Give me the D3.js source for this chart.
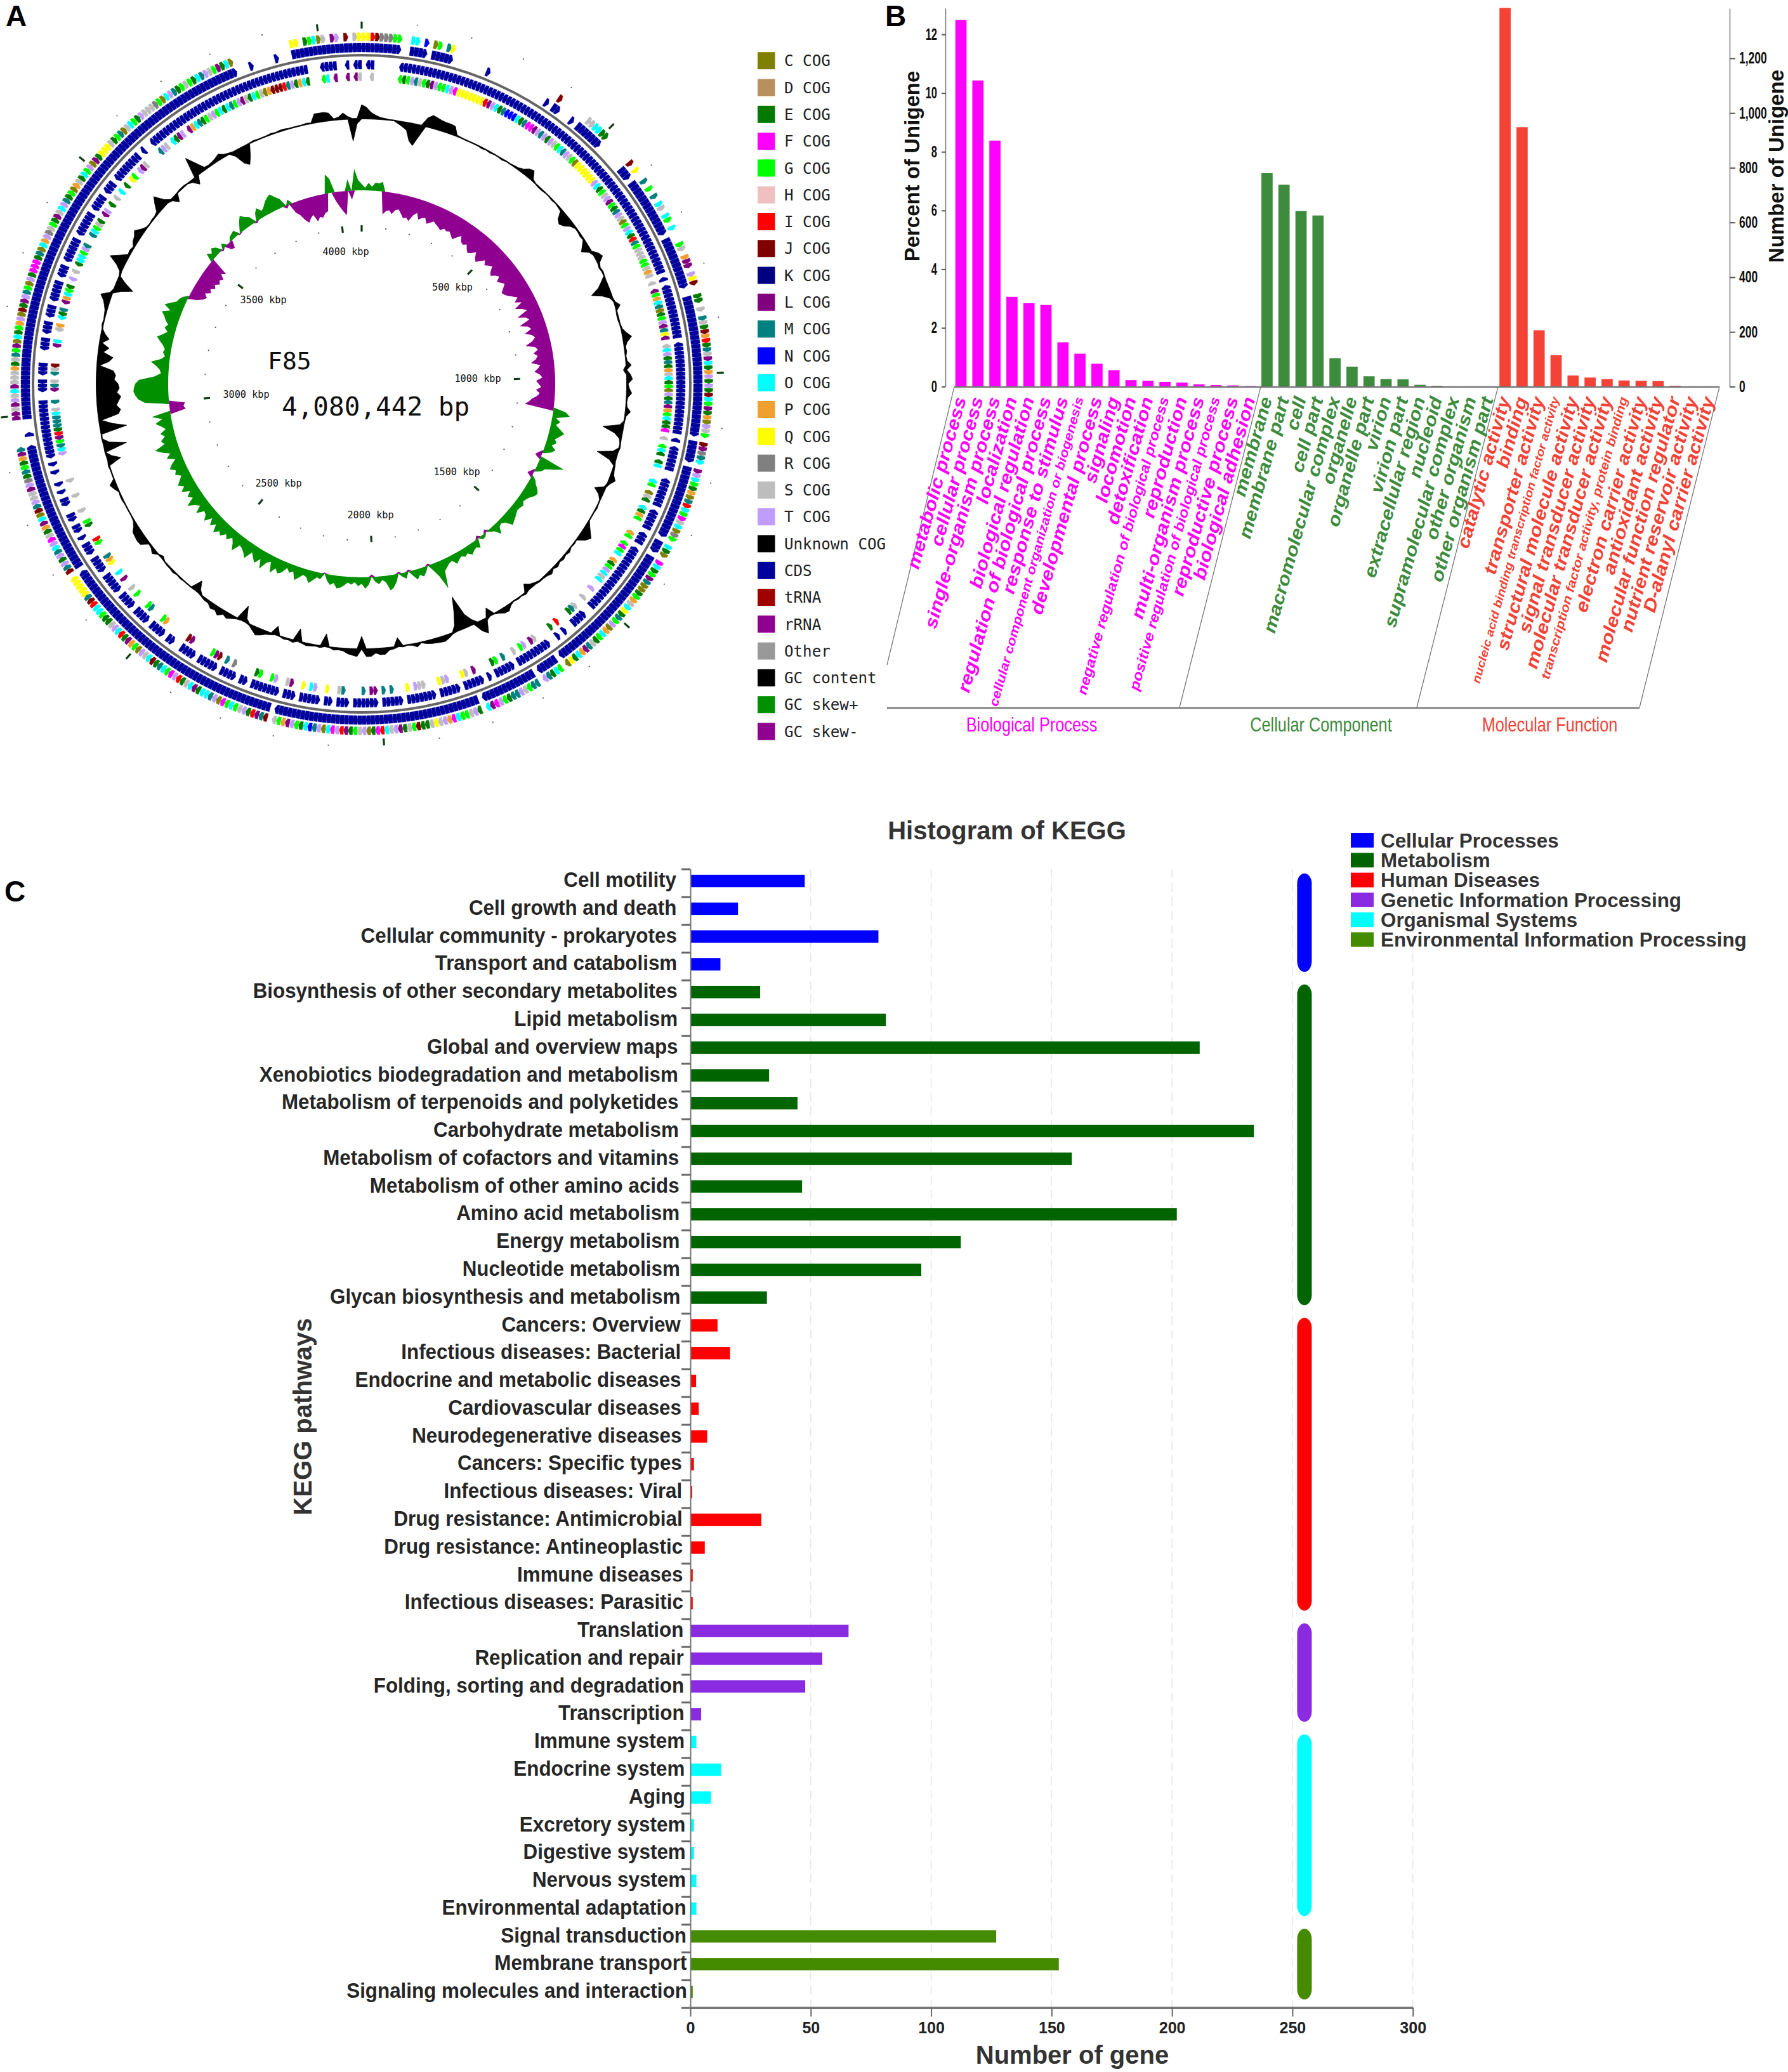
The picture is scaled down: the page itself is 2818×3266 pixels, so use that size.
<!DOCTYPE html>
<html><head><meta charset="utf-8">
<script src="https://cdn.jsdelivr.net/npm/d3@7/dist/d3.min.js"></script>
<style>html,body{margin:0;padding:0;background:#fff}svg{display:block}</style>
</head><body><div id="chart"></div>
<script>
// ---------- Panel A data ----------
const genomeLength = 4080442;
const cogLegend = ["C COG","D COG","E COG","F COG","G COG","H COG","I COG","J COG","K COG","L COG","M COG","N COG","O COG","P COG","Q COG","R COG","S COG","T COG","Unknown COG","CDS","tRNA","rRNA","Other","GC content","GC skew+","GC skew-"];
const cogLegendColors = ["#808000","#b89060","#007a00","#ff00ff","#00ff00","#f0c0c0","#ff0000","#800000","#000080","#800080","#008080","#0000ff","#00ffff","#f0a030","#ffff00","#808080","#bdbdbd","#c09cff","#000000","#00009c","#a00000","#900090","#999999","#000000","#009000","#900090"];
// one row per 30 degrees, clockwise from the top; each letter is a gene's COG class, x = CDS without a class, . = no gene
const outerGenes = [
"QQIJRRRGG..OOxN.CGxMQ........x..........",
"....x.Jx...x.xSSOOEE.......JxQ.xMxGxMxOS",
"xOGxO.xxGSxPLLxTQJ..EExSxMSEJPIEMSLOEPTE",
"TEJOGLEPCTSG.JLRMO.LTOGEPCMIOGFSOCRG.OEC",
".FOEGLMCCEGPSOQEMGTCPOGESMLPOEQC.GOEMT.M",
"MGSTMMEGTFLO.ETSGGOFPTSQSEEJGSELTSOIFECT",
"SGELITFOCTMNOEGTLPGS.JMLIETSGOGFCTMOOELO",
"SEITFGOMEJOSTCGPLEIOTSEEGOOIJMQQQQQ.JMTE",
"TMOTFSEPLOCJMTSSLTREMGEPLM..x...LLSLTSOL",
"SSSPESMGLCOEGPTCJELTMGCTEFFFEMCOPTRSGELS",
"OTMEGCPSEOGTCLEQQQSEGMCSOGETSSSRGCOTMEGS",
"GEOMTSGLEOC...x.....x...QQxEGOCSxLTxJxSQ"];
const innerGenes = [
".xS......GEGTMSGELTGGOTFQQQQQQQILTOEMNNN",
"OEMFFLTMTETSGOMTSGCQQQQQQTOEGSTLGEMTSCGT",
"OEIMGSSSGGSPS.S.LGPOMCEGTLMQL.SOTEMEPSOE",
"GCTEMLPGOEEF.S.GOExEO..xOGxCSE.OEPGx.xPG",
".GFGOxPEGTOSOxxTxxS..SMEx..I.E..xxSLxTGx",
"S.xMxGE.x.xLxSQ.xxTSQ.xxSSTxQ.xxMxM.LLxM",
"xx.xMS.xQ.xTOxQ.xLS.xTGxxGE.xx.xRxM.JLGx",
"x.xxLJ..xx.xPGx.xMGx.xGxS.xLxOx.QPMx.xGI",
".x.EG.xS..xS.x.S..x.x.TOMGLIEMMMOSxM..LM",
"S.MSJ...xLO.xSP.OEM.LPOGE.TxS.EOOGTM.xMO",
"GSE.LTxE.SxO.ExQGxTLS.x..MTSxOELTxLPOMEG",
"STGOEOMGTLSEOGSCPJJJIMTEPOE...GOxL..L.LS"];
// GC content, one value per degree, per 30-degree row (outward +, inward -)
const gcContentRows = [
[22,18,10,6,3,2,1,1,-4,-8,-12,-28,-34,-18,14,20,18,16,15,15,14,2,1,-1,-1,-1,-1,-2,-1,-2],
[-1,-1,-2,1,1,2,3,6,12,14,3,-1,-2,-2,-1,-1,-2,-1,-2,-3,-14,-18,-14,-6,-2,-2,-3,-2,-8,-14],
[-4,8,12,3,-2,2,1,-8,-16,-30,-14,-4,2,8,-1,-2,-2,-1,2,7,14,6,2,3,1,2,8,-5,6,9],
[2,4,8,2,1,2,8,2,1,-6,-32,-12,-3,1,2,-8,-32,-10,2,3,5,10,4,-3,-16,-6,-1,1,2,1],
[1,1,6,12,18,12,1,2,1,4,2,4,2,5,2,6,3,2,2,-3,-6,-12,3,1,2,-1,3,9,8,4],
[1,-14,4,23,15,-8,-20,-53,-30,-10,2,6,9,8,7,6,4,1,6,2,-1,2,-14,3,4,10,10,7,12,12],
[-20,12,10,8,4,3,4,1,-20,3,2,3,4,2,-20,4,2,3,1,-14,3,5,9,12,7,2,-6,-25,2,5],
[9,6,12,7,9,4,4,2,-6,-18,1,1,1,2,1,3,2,2,1,-4,1,7,3,2,13,14,13,12,6,2],
[1,1,1,1,2,2,1,6,10,1,1,1,2,-21,-8,1,-36,-10,1,-1,-42,-20,-4,-32,-36,-30,-34,-38,-32,-36],
[-34,-28,-30,-26,-4,-18,-24,-8,-16,-4,-14,-6,-1,2,1,2,3,6,10,17,4,-12,-29,-14,-2,3,12,27,14,3],
[4,2,7,9,14,7,2,1,2,2,4,14,23,8,-3,-12,1,2,2,1,-4,-13,33,18,4,3,4,6,9,4],
[2,-8,-24,-30,-18,1,2,1,1,1,2,1,2,2,1,1,1,1,2,1,14,14,14,12,2,4,10,4,-35,-8]];
// GC skew, one value per degree (green outward +, purple inward -)
const gcSkewRows = [
[10,4,12,6,13,12,15,-36,-30,-28,-33,-26,-24,-30,-36,-34,-38,-27,-22,-31,-27,-25,-33,-29,-25,-28,-30,-33,-28,-30],
[-28,-32,-36,-30,-24,-32,-34,-30,-36,-40,-36,-30,-38,-42,-36,-30,-36,-32,-28,-36,-40,-34,-30,-38,-34,-30,-36,-42,-40,-36],
[-30,-24,-32,-22,-36,-26,-20,-38,-26,-22,-40,-28,-24,-36,-26,-22,-28,-40,-26,-22,-30,-24,-28,-36,-22,-26,-32,-24,-20,-30],
[-26,-22,-30,-24,-28,-36,-40,-46,20,27,6,14,8,16,24,18,12,16,10,18,12,-6,-10,41,28,14,10,-5,-9,8],
[12,18,22,20,15,12,10,14,12,11,13,16,18,21,10,6,8,18,8,4,-5,5,6,-5,14,10,12,16,10,13],
[9,12,16,8,10,14,18,45,22,10,-3,8,14,10,16,8,-3,10,6,-3,12,20,24,10,6,12,8,-4,12,18],
[10,14,8,12,9,14,18,20,12,16,10,-2,10,8,14,20,12,10,16,22,10,14,8,18,22,16,26,10,14,28],
[14,24,18,12,26,20,16,14,28,18,12,20,14,22,18,26,14,22,12,24,16,14,26,14,20,30,16,22,14,26],
[18,26,20,14,22,18,26,20,12,24,16,28,37,20,24,16,22,12,18,26,14,30,-25,-22,-25,38,48,52,55,54],
[52,46,22,12,14,20,29,14,8,12,10,14,20,26,18,12,18,14,20,24,30,18,30,22,14,12,8,-14,-22,-26],
[-20,-28,-24,-30,-26,-32,-28,-32,-24,-30,14,8,14,10,-3,8,-10,-12,6,8,10,-2,8,16,22,16,12,-3,12,18],
[10,14,20,24,27,20,14,-5,8,-16,-22,-32,-38,-32,-28,-40,-34,-36,-30,-28,30,22,-14,-24,-32,-38,18,-14,34,16]];
const kbpMajor = [0,500,1000,1500,2000,2500,3000,3500,4000];
const kbpLabels = ["500 kbp","1000 kbp","1500 kbp","2000 kbp","2500 kbp","3000 kbp","3500 kbp","4000 kbp"];
const genomeName = "F85";
const genomeSizeLabel = "4,080,442 bp";

// ---------- Panel B data ----------
const goProcess = ["metabolic process","cellular process","single-organism process","localization","biological regulation","regulation of biological process","response to stimulus","cellular component organization or biogenesis","developmental process","signaling","locomotion","detoxification","negative regulation of biological process","reproduction","multi-organism process","positive regulation of biological process","reproductive process","biological adhesion"];
const goProcessPct = [12.49,10.43,8.38,3.06,2.84,2.78,1.51,1.12,0.78,0.56,0.22,0.2,0.16,0.14,0.08,0.05,0.04,0.02];
const goComponent = ["membrane","membrane part","cell","cell part","macromolecular complex","organelle","organelle part","virion","virion part","extracellular region","nucleoid","supramolecular complex","other organism","other organism part"];
const goComponentPct = [7.27,6.88,5.98,5.83,0.97,0.68,0.35,0.26,0.25,0.06,0.03,0.01,0.01,0.01];
const goFunction = ["catalytic activity","binding","transporter activity","nucleic acid binding transcription factor activity","structural molecule activity","signal transducer activity","molecular transducer activity","transcription factor activity, protein binding","electron carrier activity","antioxidant activity","molecular function regulator","nutrient reservoir activity","D-alanyl carrier activity"];
const goFunctionPct = [12.9,8.84,1.92,1.07,0.38,0.31,0.26,0.21,0.2,0.19,0.03,0.01,0.01];
const goPctTicks = [0,2,4,6,8,10,12];
const goCountTicks = [0,200,400,600,800,1000,1200];
const goGroups = ["Biological Process","Cellular Component","Molecular Function"];

// ---------- Panel C data ----------
const keggGroups = ["Cellular Processes","Metabolism","Human Diseases","Genetic Information Processing","Organismal Systems","Environmental Information Processing"];
const keggColors = ["#0000ff","#006400","#ff0000","#8a2be2","#00ffff","#458b00"];
const keggPathways = [
["Cell motility","Cell growth and death","Cellular community - prokaryotes","Transport and catabolism"],
["Biosynthesis of other secondary metabolites","Lipid metabolism","Global and overview maps","Xenobiotics biodegradation and metabolism","Metabolism of terpenoids and polyketides","Carbohydrate metabolism","Metabolism of cofactors and vitamins","Metabolism of other amino acids","Amino acid metabolism","Energy metabolism","Nucleotide metabolism","Glycan biosynthesis and metabolism"],
["Cancers: Overview","Infectious diseases: Bacterial","Endocrine and metabolic diseases","Cardiovascular diseases","Neurodegenerative diseases","Cancers: Specific types","Infectious diseases: Viral","Drug resistance: Antimicrobial","Drug resistance: Antineoplastic","Immune diseases","Infectious diseases: Parasitic"],
["Translation","Replication and repair","Folding, sorting and degradation","Transcription"],
["Immune system","Endocrine system","Aging","Excretory system","Digestive system","Nervous system","Environmental adaptation"],
["Signal transduction","Membrane transport","Signaling molecules and interaction"]];
const keggCounts = [
[47.5,19.8,78.1,12.5],
[29,81.2,211.5,32.7,44.5,234,158.4,46.4,202,112.3,95.9,31.8],
[11.3,16.5,2.4,3.5,7,1.5,0.8,29.5,6,1,1],
[65.7,54.8,47.7,4.5],
[2.5,12.8,8.6,1.5,1.5,2.5,2.5],
[127,153,1]];
const keggXTicks = [0,50,100,150,200,250,300];
const keggPillValue = 255;

// ---------- Drawing ----------
const SANS = "'Liberation Sans',Arial,sans-serif", MONO = "'DejaVu Sans Mono',monospace";
const svg = d3.select("#chart").append("svg").attr("width",2818).attr("height",3266);
svg.append("rect").attr("width",2818).attr("height",3266).attr("fill","#fff");
function squeeze(sel,f){sel.each(function(){const n=this.getComputedTextLength();this.setAttribute("textLength",n*f);this.setAttribute("lengthAdjust","spacingAndGlyphs");});return sel;}
function panelLetter(t,x,y){svg.append("text").text(t).attr("x",x).attr("y",y).attr("font-family",SANS).attr("font-weight","bold").attr("font-size",46).attr("fill","#000");}
panelLetter("A",9,41);panelLetter("B",1395,41);panelLetter("C",7,1421);

// ---- Panel A ----
const A = svg.append("g").attr("transform","translate(570,605)");
const colorOf = Object.fromEntries(cogLegend.slice(0,18).map((d,i)=>[d[0],cogLegendColors[i]]));
colorOf.U = "#000000";
const angle = d3.scaleLinear().domain([0,360]).range([0,2*Math.PI]);
const posAngle = d3.scaleLinear().domain([0,genomeLength]).range([0,2*Math.PI]);
const geneLine = d3.lineRadial().angle(d=>d[0]).radius(d=>d[1]).curve(d3.curveLinearClosed);
function genes(rows){
  const out=[];
  rows.forEach((row,ri)=>[...row].forEach((c,i)=>out.push({c,a0:(ri+i/row.length)*30,a1:(ri+(i+1)/row.length)*30})));
  out.forEach((d,i)=>{d.nextGap=out[(i+1)%out.length].c===".";d.prevGap=out[(i-1+out.length)%out.length].c===".";});
  return out.filter(d=>d.c!==".");
}
function track(data,r,w,dir,shoulder,colorFn){
  const hw=w/2, pts=d=>{const a0=dir>0?d.a0:d.a1,a1=dir>0?d.a1:d.a0,gap=dir>0?d.nextGap:d.prevGap,m=a0+(a1-a0)*(gap?0.5:shoulder);
    return [[angle(a0),r-hw],[angle(m),r-hw],[angle(a1),r],[angle(m),r+hw],[angle(a0),r+hw]];};
  A.append("g").selectAll("path").data(data).join("path").attr("d",d=>geneLine(pts(d))).attr("fill",colorFn).attr("stroke",colorFn).attr("stroke-width",0.4);
}
const outerData=genes(outerGenes), innerData=genes(innerGenes);
track(outerData.filter(d=>d.c!=="x"),547,13,1,0.6,d=>colorOf[d.c]);
track(outerData,530,14,1,0.86,()=>cogLegendColors[19]);
track(innerData,503,14,-1,0.72,()=>cogLegendColors[19]);
track(innerData.filter(d=>d.c!=="x"),484,13,-1,0.6,d=>colorOf[d.c]);
A.append("circle").attr("r",518).attr("fill","none").attr("stroke","#666").attr("stroke-width",4);

const gcSeries = gcContentRows.flat(), skewSeries = gcSkewRows.flat();
const gcR = d3.scaleLinear().domain([0,10]).range([418,428]);
const skR = d3.scaleLinear().domain([0,10]).range([305,315]);
const closedIdx = d3.range(361);
A.append("path").attr("fill",cogLegendColors[23]).attr("stroke",cogLegendColors[23]).attr("stroke-width",0.8)
 .attr("d",d3.areaRadial().angle(i=>angle(i)).innerRadius(i=>gcR(Math.min(gcSeries[i%360],-0.5))).outerRadius(i=>gcR(Math.max(gcSeries[i%360],0.5)))(closedIdx));
A.append("path").attr("fill",cogLegendColors[24])
 .attr("d",d3.areaRadial().angle(i=>angle(i)).innerRadius(skR(0)).outerRadius(i=>skR(Math.max(skewSeries[i%360],0)))(closedIdx));
A.append("path").attr("fill",cogLegendColors[25])
 .attr("d",d3.areaRadial().angle(i=>angle(i)).innerRadius(i=>skR(Math.min(skewSeries[i%360],0))).outerRadius(skR(0))(closedIdx));

// ticks and minor dots
const tickLine=(a,r0,r1)=>d3.lineRadial()([[a,r0],[a,r1]]);
[[240,250],[560,571]].forEach(([r0,r1])=>{
  A.append("g").selectAll("path").data(kbpMajor).join("path").attr("d",d=>tickLine(posAngle(d*1000),r0,r1)).attr("stroke","#0b3d12").attr("stroke-width",3.2).attr("fill","none");
});
const minorKbp=d3.range(100,4080,100).filter(d=>d%500);
[247,572].forEach(r=>{
  A.append("g").selectAll("circle").data(minorKbp).join("circle").attr("r",1.1).attr("fill","#555")
   .attr("cx",d=>r*Math.sin(posAngle(d*1000))).attr("cy",d=>-r*Math.cos(posAngle(d*1000)));
});
const kbpSpots=[[143,-152],[183,-8],[150,139],[14,207],[-131,157],[-182,17],[-155,-132],[-25,-208]];
A.append("g").selectAll("text").data(kbpLabels).join("text").text(d=>d)
 .attr("x",(d,i)=>kbpSpots[i][0]).attr("y",(d,i)=>kbpSpots[i][1]).attr("dy",".36em").attr("text-anchor","middle")
 .attr("font-family",MONO).attr("font-size",15.2).attr("fill","#111");
svg.append("text").text(genomeName).attr("x",422).attr("y",582).attr("font-family",MONO).attr("font-size",38).attr("fill","#111");
svg.append("text").text(genomeSizeLabel).attr("x",444).attr("y",655).attr("font-family",MONO).attr("font-size",41).attr("fill","#111");

// legend A
const legA=svg.append("g");
const legY=d3.scalePoint().domain(cogLegend).range([95.7,1153]);
legA.selectAll("rect").data(cogLegend).join("rect").attr("x",1194).attr("width",27.5).attr("height",27).attr("y",d=>legY(d)-13.5).attr("fill",(d,i)=>cogLegendColors[i]);
legA.selectAll("text").data(cogLegend).join("text").text(d=>d).attr("x",1236).attr("y",d=>legY(d)).attr("dy",".36em").attr("font-family",MONO).attr("font-size",24.2).attr("fill","#222");

// ---- Panel B ----
const goLabels=[...goProcess,...goComponent,...goFunction];
const goValues=[...goProcessPct,...goComponentPct,...goFunctionPct];
const goColorList=["#ff00ff","#3d8b3d","#f44336"];
const goGroupOf=i=>i<goProcess.length?0:i<goProcess.length+goComponent.length?1:2;
const bx=d3.scaleBand().domain(goLabels).range([1505.6-4.5,1505.6-4.5+45*26.8]).paddingInner(0.34).paddingOuter(0.17);
const by=d3.scaleLinear().domain([0,12.89]).range([609.4,13]);
const byRight=d3.scaleLinear().domain([0,1383]).range([609.4,13]);
const B=svg.append("g");
B.selectAll("rect.bar").data(goLabels).join("rect").attr("class","bar").attr("x",d=>bx(d)).attr("width",bx.bandwidth())
 .attr("y",(d,i)=>by(goValues[i])).attr("height",(d,i)=>by(0)-by(goValues[i])).attr("fill",(d,i)=>goColorList[goGroupOf(i)]);
function styleAxis(g,fs,f){g.selectAll("path.domain").attr("stroke","#777").attr("stroke-width",1.5);g.selectAll(".tick line").attr("stroke","#555").attr("stroke-width",2);
  const t=g.selectAll(".tick text").attr("font-family",SANS).attr("font-size",fs).attr("font-weight","bold").attr("fill","#111");squeeze(t,f);}
const axL=B.append("g").attr("transform","translate(1490,0)").call(d3.axisLeft(by).tickValues(goPctTicks).tickSize(6).tickPadding(7).tickSizeOuter(0));
styleAxis(axL,25,0.66);
const axR=B.append("g").attr("transform","translate(2726,0)").call(d3.axisRight(byRight).tickValues(goCountTicks).tickFormat(d3.format(",")).tickSize(9).tickPadding(6).tickSizeOuter(0));
styleAxis(axR,25,0.7);
B.append("text").text("Percent of Unigene").attr("transform","translate(1449,262) rotate(-90)").attr("text-anchor","middle").attr("font-family",SANS).attr("font-weight","bold").attr("font-size",33).attr("fill","#111");
B.append("text").text("Number of Unigene").attr("transform","translate(2811,262) rotate(-90)").attr("text-anchor","middle").attr("font-family",SANS).attr("font-weight","bold").attr("font-size",33).attr("fill","#111");
const frame=[[[1504,609.6],[1398,1048]],[[1987,609.6],[1859,1115]],[[2361,609.6],[2233,1115]],[[2710,609.6],[2584,1115]],[[1398,1116],[2584,1116]],[[1504,610],[2710,610]]];
B.append("g").selectAll("path").data(frame).join("path").attr("d",d=>d3.line()(d)).attr("stroke","#777").attr("stroke-width",(d,i)=>i>3?2.5:1.3).attr("fill","none");
B.append("g").selectAll("text").data(goLabels).join("text").text(d=>d)
 .attr("transform",d=>`translate(${bx(d)+bx.bandwidth()/2-1},626) rotate(-74.4)`).attr("text-anchor","end").attr("dy",".35em")
 .attr("font-family",SANS).attr("font-weight","bold").attr("font-style","italic")
 .attr("font-size",d=>Math.min(28,900/d.length)).attr("fill",(d,i)=>goColorList[goGroupOf(i)]).call(squeeze,1.14);
const groupSpots=[1626,2082,2442.5];
B.append("g").selectAll("text").data(goGroups).join("text").text(d=>d).attr("x",(d,i)=>groupSpots[i]).attr("y",1153).attr("text-anchor","middle")
 .attr("font-family",SANS).attr("font-size",32).attr("fill",(d,i)=>goColorList[i]).call(squeeze,0.79);

// ---- Panel C ----
const keggNames=keggPathways.flat(), keggVals=keggCounts.flat();
const keggGroupOf=keggPathways.flatMap((g,i)=>g.map(()=>i));
const cx=d3.scaleLinear().domain([0,300]).range([1088,2226.7]);
const cy=d3.scaleBand().domain(keggNames).range([1369.7,3164.6]).paddingInner(0.555).paddingOuter(0.2775);
const cyTicks=d3.scaleLinear().domain([0,keggNames.length]).range([1369.7,3164.6]);
const C=svg.append("g");
C.append("g").selectAll("line").data(keggXTicks.slice(1)).join("line").attr("x1",d=>cx(d)).attr("x2",d=>cx(d)).attr("y1",1370).attr("y2",3164)
 .attr("stroke","#e6e6e6").attr("stroke-width",1.5).attr("stroke-dasharray","14 8");
C.selectAll("rect.kbar").data(keggNames).join("rect").attr("class","kbar").attr("x",cx(0)).attr("y",d=>cy(d)-3).attr("height",cy.bandwidth())
 .attr("width",(d,i)=>cx(keggVals[i])-cx(0)).attr("fill",(d,i)=>keggColors[keggGroupOf[i]]);
const axY=C.append("g").attr("transform","translate(1088,0)").call(d3.axisLeft(cyTicks).tickValues(d3.range(keggNames.length+1)).tickFormat("").tickSize(14).tickSizeOuter(0));
axY.selectAll("path.domain").attr("stroke","#777").attr("stroke-width",2);axY.selectAll(".tick line").attr("stroke","#666").attr("stroke-width",3);
const axX=C.append("g").attr("transform","translate(0,3164.6)").call(d3.axisBottom(cx).tickValues(keggXTicks).tickSize(14).tickPadding(9).tickSizeOuter(0));
axX.selectAll("path.domain").attr("stroke","#777").attr("stroke-width",4);axX.selectAll(".tick line").attr("stroke","#666").attr("stroke-width",2);
axX.selectAll(".tick text").attr("font-family",SANS).attr("font-weight","bold").attr("font-size",25).attr("fill","#222");
C.append("g").selectAll("text").data(keggNames).join("text").text(d=>d)
 .attr("x",(d,i)=>1066+i*0.42).attr("y",d=>cy(d)+cy.bandwidth()/2-5).attr("dy",".35em").attr("text-anchor","end")
 .attr("font-family",SANS).attr("font-weight","bold").attr("font-size",33).attr("fill","#262626").call(squeeze,0.95);
C.append("g").selectAll("rect").data(keggPathways).join("rect")
 .attr("x",cx(keggPillValue)-11.5).attr("width",23).attr("rx",11.5).attr("ry",16)
 .attr("y",g=>cyTicks(keggNames.indexOf(g[0]))+7)
 .attr("height",g=>cyTicks(keggNames.indexOf(g[g.length-1])+1)-cyTicks(keggNames.indexOf(g[0]))-20)
 .attr("fill",(g,i)=>keggColors[i]);
C.append("text").text("Histogram of KEGG").attr("x",1587).attr("y",1323).attr("text-anchor","middle").attr("font-family",SANS).attr("font-weight","bold").attr("font-size",40).attr("fill","#333");
const legC=d3.scaleLinear().domain([0,5]).range([1324.5,1481]);
C.append("g").selectAll("rect").data(keggGroups).join("rect").attr("x",2129).attr("width",36).attr("height",23).attr("y",(d,i)=>legC(i)-11.5).attr("fill",(d,i)=>keggColors[i]);
C.append("g").selectAll("text").data(keggGroups).join("text").text(d=>d).attr("x",2176).attr("y",(d,i)=>legC(i)).attr("dy",".35em")
 .attr("font-family",SANS).attr("font-weight","bold").attr("font-size",32).attr("fill","#333").call(squeeze,0.98);
C.append("text").text("Number of gene").attr("x",1690).attr("y",3253).attr("text-anchor","middle").attr("font-family",SANS).attr("font-weight","bold").attr("font-size",40).attr("fill","#333");
C.append("text").text("KEGG pathways").attr("transform","translate(491,2233) rotate(-90)").attr("text-anchor","middle").attr("font-family",SANS).attr("font-weight","bold").attr("font-size",40).attr("fill","#333");
</script></body></html>
